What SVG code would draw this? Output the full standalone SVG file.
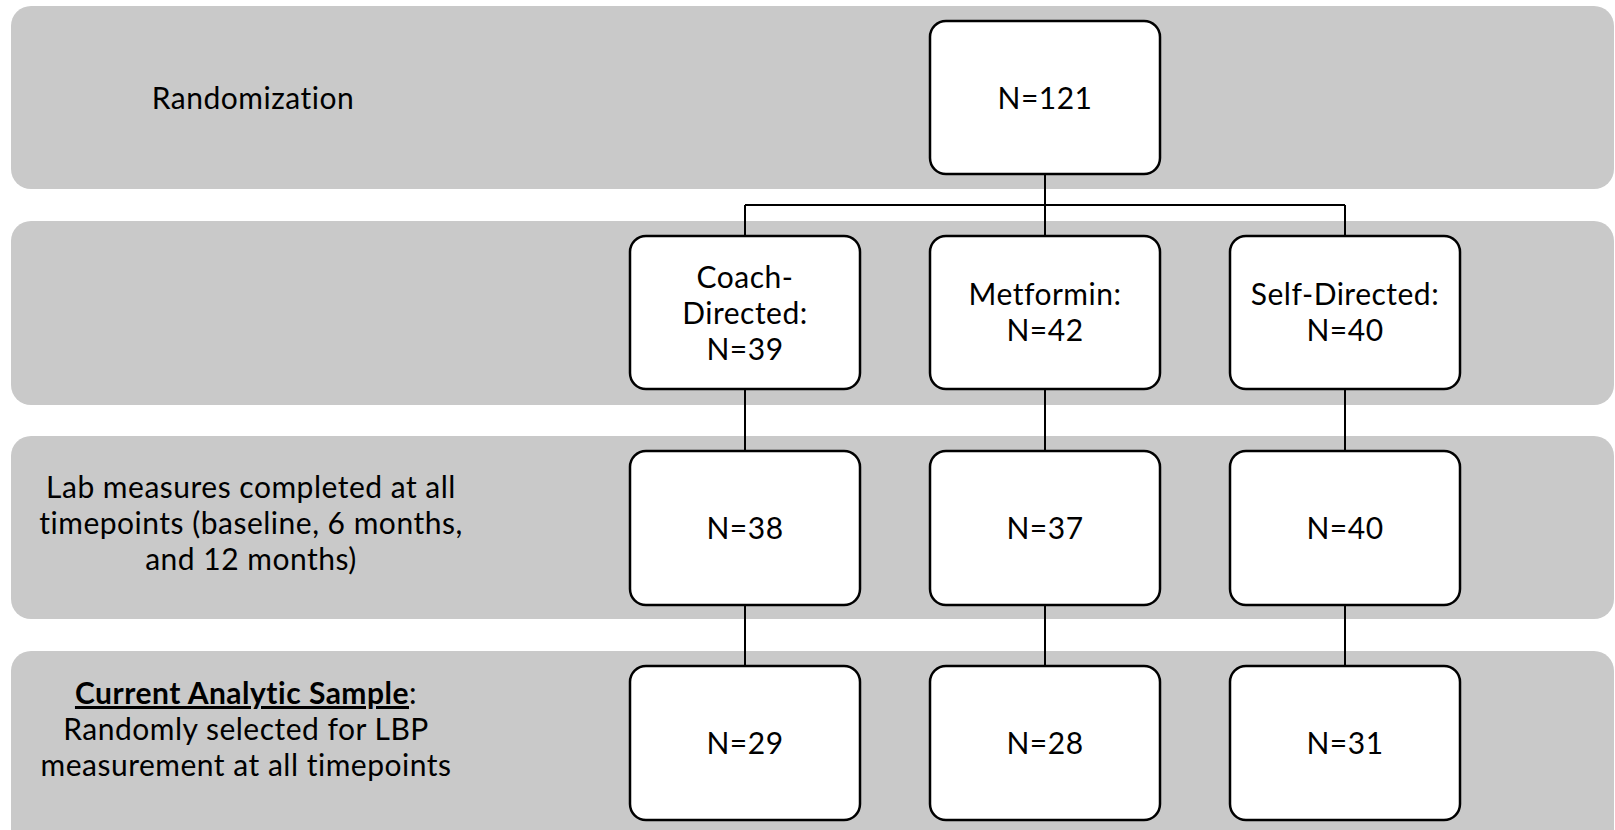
<svg xmlns="http://www.w3.org/2000/svg" width="1615" height="830" viewBox="0 0 1615 830">
<style>
.band{fill:#c9c9c9;}
.box{fill:#ffffff;stroke:#000000;stroke-width:2.5;}
.conn{fill:none;stroke:#000000;stroke-width:2;}
text{font-family:"Lato","Carlito","Liberation Sans",sans-serif;font-size:30px;letter-spacing:0.5px;fill:#000000;text-anchor:middle;}
.b{font-weight:bold;text-decoration:underline;}
</style>
<rect width="1615" height="830" fill="#ffffff"/>
<g id="bands">
<rect class="band" x="11" y="6" width="1603" height="183" rx="20"/>
<rect class="band" x="11" y="221" width="1603" height="184" rx="20"/>
<rect class="band" x="11" y="436" width="1603" height="183" rx="20"/>
<rect class="band" x="11" y="651" width="1603" height="200" rx="20"/>
</g>
<g id="labels">
<text x="253" y="109">Randomization</text>
<text x="251" y="498">Lab measures completed at all</text>
<text x="251" y="534">timepoints (baseline, 6 months,</text>
<text x="251" y="570">and 12 months)</text>
<text x="246" y="704"><tspan class="b">Current Analytic Sample</tspan>:</text>
<text x="246" y="740">Randomly selected for LBP</text>
<text x="246" y="776">measurement at all timepoints</text>
</g>
<g id="connectors">
<path class="conn" d="M1045 174V205M745 205H1345M745 205V236M1045 205V236M1345 205V236"/>
<path class="conn" d="M745 389V451M1045 389V451M1345 389V451"/>
<path class="conn" d="M745 605V666M1045 605V666M1345 605V666"/>
</g>
<g id="n121"><rect class="box" x="930" y="21" width="230" height="153" rx="16"/><text x="1045" y="109">N=121</text></g>
<g id="coach"><rect class="box" x="630" y="236" width="230" height="153" rx="16"/><text x="745" y="288">Coach-</text><text x="745" y="324">Directed:</text><text x="745" y="360">N=39</text></g>
<g id="metformin"><rect class="box" x="930" y="236" width="230" height="153" rx="16"/><text x="1045" y="305">Metformin:</text><text x="1045" y="341">N=42</text></g>
<g id="self"><rect class="box" x="1230" y="236" width="230" height="153" rx="16"/><text x="1345" y="305">Self-Directed:</text><text x="1345" y="341">N=40</text></g>
<g id="coach-lab"><rect class="box" x="630" y="451" width="230" height="154" rx="16"/><text x="745" y="539">N=38</text></g>
<g id="metformin-lab"><rect class="box" x="930" y="451" width="230" height="154" rx="16"/><text x="1045" y="539">N=37</text></g>
<g id="self-lab"><rect class="box" x="1230" y="451" width="230" height="154" rx="16"/><text x="1345" y="539">N=40</text></g>
<g id="coach-lbp"><rect class="box" x="630" y="666" width="230" height="154" rx="16"/><text x="745" y="754">N=29</text></g>
<g id="metformin-lbp"><rect class="box" x="930" y="666" width="230" height="154" rx="16"/><text x="1045" y="754">N=28</text></g>
<g id="self-lbp"><rect class="box" x="1230" y="666" width="230" height="154" rx="16"/><text x="1345" y="754">N=31</text></g>
</svg>
